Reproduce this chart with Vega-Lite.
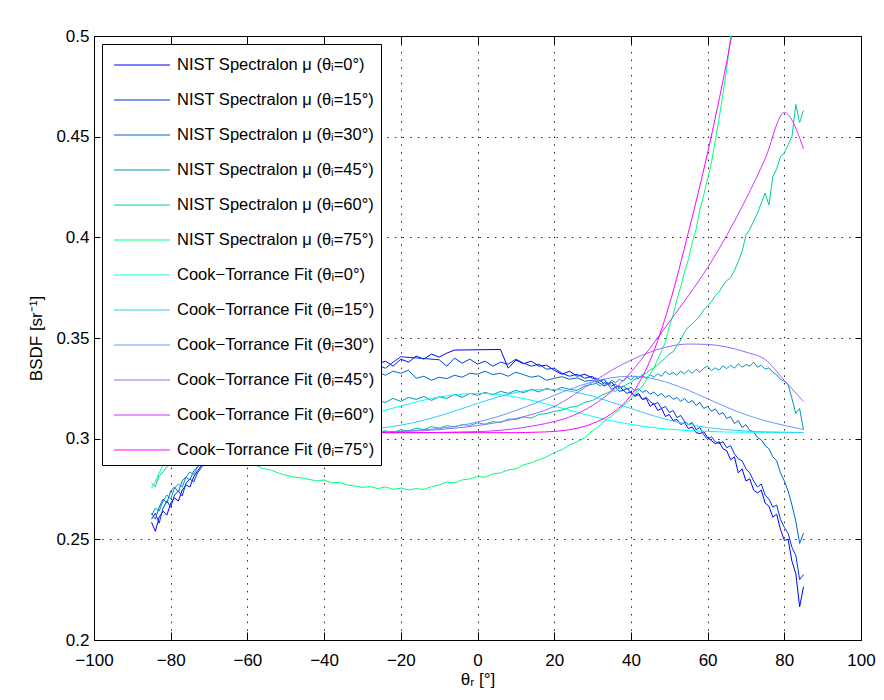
{
  "$schema": "https://vega.github.io/schema/vega-lite/v6.json",
  "width": 767,
  "height": 604,
  "autosize": {"type": "none"},
  "padding": {"left": 94, "top": 36, "right": 23, "bottom": 60},
  "background": "white",
  "config": {
    "font": "Liberation Sans",
    "view": {"stroke": "black", "strokeWidth": 1},
    "axis": {
      "labelFont": "Liberation Sans", "labelFontSize": 17, "labelColor": "black",
      "titleFont": "Liberation Sans", "titleFontSize": 17, "titleFontWeight": "normal", "titleColor": "black",
      "domainColor": "black", "tickColor": "black", "labelFlush": false, "labelOverlap": false
    }
  },
  "datasets": {
    "nist": [
      {"x":-85,"N0":0.2585,"N15":0.2600,"N30":0.2630,"N45":0.2620,"N60":0.2780,"N75":0.2755},
      {"x":-84,"N0":0.2540,"N15":0.2630,"N30":0.2600,"N45":0.2655,"N60":0.2762,"N75":0.2785},
      {"x":-83,"N0":0.2610,"N15":0.2580,"N30":0.2660,"N45":0.2640,"N60":0.2815,"N75":0.2830},
      {"x":-82,"N0":0.2640,"N15":0.2655,"N30":0.2700,"N45":0.2690,"N60":0.2835,"N75":0.2870},
      {"x":-81,"N0":0.2620,"N15":0.2690,"N30":0.2680,"N45":0.2720,"N60":0.2860,"N75":0.2880},
      {"x":-80,"N0":0.2680,"N15":0.2660,"N30":0.2740,"N45":0.2700,"N60":0.2880,"N75":0.2890},
      {"x":-79,"N0":0.2705,"N15":0.2720,"N30":0.2760,"N45":0.2755,"N60":0.2885},
      {"x":-78,"N0":0.2690,"N15":0.2740,"N30":0.2735,"N45":0.2775},
      {"x":-77,"N0":0.2745,"N15":0.2715,"N30":0.2790,"N45":0.2760},
      {"x":-76,"N0":0.2770,"N15":0.2780,"N30":0.2810,"N45":0.2810,"N60":0.2890},
      {"x":-75,"N0":0.2760,"N15":0.2800,"N30":0.2795,"N45":0.2835},
      {"x":-74,"N0":0.2810,"N15":0.2785,"N30":0.2840,"N45":0.2820},
      {"x":-73,"N0":0.2840,"N15":0.2830,"N30":0.2860,"N45":0.2860},
      {"x":-70,"N0":0.2920,"N15":0.2910,"N30":0.2930,"N45":0.2900,"N60":0.2900,"N75":0.2900},
      {"x":-66,"N0":0.3000,"N15":0.2990,"N30":0.3000,"N45":0.2960,"N60":0.2910,"N75":0.2900},
      {"x":-62,"N0":0.3070,"N15":0.3060,"N30":0.3060,"N45":0.3010,"N75":0.2890},
      {"x":-58,"N0":0.3130,"N15":0.3120,"N30":0.3110,"N45":0.3050,"N75":0.2870},
      {"x":-56,"N75":0.2852},
      {"x":-54,"N0":0.3180,"N15":0.3170,"N30":0.3150,"N45":0.3090,"N60":0.2920,"N75":0.2845},
      {"x":-52,"N75":0.2830},
      {"x":-50,"N0":0.3220,"N15":0.3220,"N30":0.3190,"N45":0.3110,"N60":0.2935,"N75":0.2818},
      {"x":-48,"N75":0.2810},
      {"x":-46,"N0":0.3260,"N15":0.3260,"N30":0.3220,"N60":0.2955,"N75":0.2805},
      {"x":-44,"N75":0.2798},
      {"x":-42,"N0":0.3290,"N15":0.3300,"N30":0.3250,"N60":0.2970,"N75":0.2790},
      {"x":-40,"N45":0.3140,"N75":0.2795},
      {"x":-38,"N0":0.3310,"N15":0.3320,"N30":0.3280,"N45":0.3150,"N60":0.2990,"N75":0.2780},
      {"x":-36,"N75":0.2784},
      {"x":-34,"N0":0.3340,"N15":0.3340,"N45":0.3165,"N60":0.3000,"N75":0.2770},
      {"x":-32,"N75":0.2765},
      {"x":-30,"N0":0.3350,"N15":0.3360,"N45":0.3175,"N60":0.3010,"N75":0.2758},
      {"x":-28,"N0":0.3360,"N15":0.3350,"N45":0.3180,"N60":0.3020,"N75":0.2762},
      {"x":-26,"N0":0.3370,"N15":0.3365,"N30":0.3330,"N45":0.3190,"N60":0.3032,"N75":0.2752},
      {"x":-24,"N0":0.3385,"N15":0.3350,"N30":0.3315,"N45":0.3180,"N60":0.3040,"N75":0.2760},
      {"x":-22,"N0":0.3360,"N15":0.3380,"N30":0.3335,"N45":0.3200,"N60":0.3028,"N75":0.2748},
      {"x":-20,"N0":0.3395,"N15":0.3407,"N30":0.3325,"N45":0.3185,"N60":0.3045,"N75":0.2755},
      {"x":-18,"N0":0.3380,"N30":0.3340,"N45":0.3205,"N60":0.3038,"N75":0.2745},
      {"x":-16,"N0":0.3410,"N30":0.3300,"N45":0.3195,"N60":0.3052,"N75":0.2752},
      {"x":-14,"N0":0.3395,"N30":0.3310,"N45":0.3210,"N60":0.3045,"N75":0.2748},
      {"x":-12,"N0":0.3420,"N30":0.3290,"N45":0.3190,"N60":0.3060,"N75":0.2762},
      {"x":-10,"N0":0.3405,"N15":0.3392,"N30":0.3305,"N45":0.3208,"N60":0.3052,"N75":0.2770},
      {"x":-8,"N0":0.3425,"N15":0.3360,"N30":0.3298,"N45":0.3200,"N60":0.3065,"N75":0.2785},
      {"x":-6,"N0":0.3440,"N15":0.3400,"N30":0.3315,"N45":0.3220,"N60":0.3058,"N75":0.2780},
      {"x":-4,"N15":0.3375,"N30":0.3305,"N45":0.3205,"N60":0.3070,"N75":0.2795},
      {"x":-2,"N15":0.3395,"N30":0.3325,"N45":0.3225,"N60":0.3066,"N75":0.2800},
      {"x":0,"N15":0.3370,"N30":0.3320,"N45":0.3215,"N60":0.3078,"N75":0.2812},
      {"x":2,"N15":0.3385,"N30":0.3335,"N45":0.3230,"N60":0.3072,"N75":0.2808},
      {"x":4,"N15":0.3360,"N30":0.3318,"N45":0.3218,"N60":0.3085,"N75":0.2825},
      {"x":6,"N0":0.3443,"N15":0.3380,"N30":0.3325,"N45":0.3235,"N60":0.3080,"N75":0.2830},
      {"x":8,"N0":0.3350,"N15":0.3370,"N30":0.3310,"N45":0.3225,"N60":0.3098,"N75":0.2845},
      {"x":10,"N0":0.3390,"N15":0.3395,"N30":0.3330,"N45":0.3240,"N60":0.3095,"N75":0.2850},
      {"x":12,"N0":0.3372,"N15":0.3375,"N30":0.3318,"N45":0.3228,"N60":0.3108,"N75":0.2870},
      {"x":14,"N0":0.3385,"N15":0.3360,"N30":0.3305,"N45":0.3245,"N60":0.3102,"N75":0.2880},
      {"x":16,"N0":0.3360,"N15":0.3370,"N30":0.3312,"N45":0.3232,"N60":0.3120,"N75":0.2895},
      {"x":18,"N0":0.3365,"N15":0.3345,"N30":0.3290,"N45":0.3250,"N60":0.3125,"N75":0.2910},
      {"x":20,"N0":0.3340,"N15":0.3350,"N30":0.3300,"N45":0.3238,"N60":0.3135,"N75":0.2930},
      {"x":22,"N0":0.3320,"N15":0.3325,"N30":0.3308,"N45":0.3255,"N60":0.3142,"N75":0.2945},
      {"x":24,"N0":0.3335,"N15":0.3310,"N30":0.3295,"N45":0.3245,"N60":0.3155,"N75":0.2968},
      {"x":26,"N0":0.3310,"N15":0.3320,"N30":0.3302,"N45":0.3240,"N60":0.3162,"N75":0.2985},
      {"x":28,"N0":0.3320,"N15":0.3300,"N30":0.3285,"N45":0.3262,"N60":0.3180,"N75":0.3005},
      {"x":30,"N0":0.3300,"N15":0.3310,"N30":0.3290,"N45":0.3270,"N60":0.3190,"N75":0.3040},
      {"x":31,"N0":0.3300,"N15":0.3285,"N30":0.3280,"N45":0.3275,"N60":0.3200,"N75":0.3052},
      {"x":32,"N0":0.3285,"N15":0.3275,"N30":0.3292,"N45":0.3262,"N60":0.3212,"N75":0.3068},
      {"x":33,"N0":0.3295,"N15":0.3262,"N30":0.3270,"N45":0.3280,"N60":0.3220,"N75":0.3085},
      {"x":34,"N0":0.3270,"N15":0.3270,"N30":0.3278,"N45":0.3270,"N60":0.3228,"N75":0.3100},
      {"x":35,"N0":0.3280,"N15":0.3245,"N30":0.3262,"N45":0.3290,"N60":0.3240,"N75":0.3112},
      {"x":36,"N0":0.3255,"N15":0.3255,"N30":0.3270,"N45":0.3278,"N60":0.3235,"N75":0.3130},
      {"x":37,"N0":0.3262,"N15":0.3235,"N30":0.3250,"N45":0.3295,"N60":0.3252,"N75":0.3142},
      {"x":38,"N0":0.3240,"N15":0.3240,"N30":0.3262,"N45":0.3285,"N60":0.3258,"N75":0.3165},
      {"x":39,"N0":0.3250,"N15":0.3225,"N30":0.3245,"N45":0.3305,"N60":0.3270,"N75":0.3180},
      {"x":40,"N0":0.3228,"N15":0.3232,"N30":0.3255,"N45":0.3292,"N60":0.3280,"N75":0.3195},
      {"x":41,"N0":0.3215,"N15":0.3210,"N30":0.3238,"N45":0.3310,"N60":0.3295,"N75":0.3225},
      {"x":42,"N0":0.3225,"N15":0.3218,"N30":0.3248,"N45":0.3298,"N60":0.3300,"N75":0.3240},
      {"x":43,"N0":0.3195,"N15":0.3195,"N30":0.3230,"N45":0.3312,"N60":0.3318,"N75":0.3262},
      {"x":44,"N0":0.3200,"N15":0.3205,"N30":0.3240,"N45":0.3300,"N60":0.3325,"N75":0.3290},
      {"x":45,"N0":0.3160,"N15":0.3185,"N30":0.3220,"N45":0.3318,"N60":0.3342,"N75":0.3320},
      {"x":46,"N0":0.3175,"N15":0.3170,"N30":0.3232,"N45":0.3305,"N60":0.3350,"N75":0.3350},
      {"x":47,"N0":0.3140,"N15":0.3180,"N30":0.3212,"N45":0.3322,"N60":0.3368,"N75":0.3395},
      {"x":48,"N0":0.3150,"N15":0.3150,"N30":0.3225,"N45":0.3310,"N60":0.3385,"N75":0.3435},
      {"x":49,"N0":0.3110,"N15":0.3160,"N30":0.3205,"N45":0.3335,"N60":0.3400,"N75":0.3480},
      {"x":50,"N0":0.3120,"N15":0.3130,"N30":0.3215,"N45":0.3318,"N60":0.3420,"N75":0.3555},
      {"x":51,"N0":0.3090,"N15":0.3140,"N30":0.3195,"N45":0.3328,"N60":0.3432,"N75":0.3615},
      {"x":52,"N0":0.3095,"N15":0.3105,"N30":0.3205,"N45":0.3315,"N60":0.3460,"N75":0.3690},
      {"x":53,"N0":0.3070,"N15":0.3115,"N30":0.3185,"N45":0.3335,"N60":0.3490,"N75":0.3755},
      {"x":54,"N0":0.3080,"N15":0.3085,"N30":0.3200,"N45":0.3322,"N60":0.3530,"N75":0.3830},
      {"x":55,"N0":0.3050,"N15":0.3070,"N30":0.3178,"N45":0.3340,"N60":0.3555,"N75":0.3890},
      {"x":56,"N0":0.3058,"N15":0.3080,"N30":0.3190,"N45":0.3325,"N60":0.3570,"N75":0.3975},
      {"x":57,"N0":0.3030,"N15":0.3045,"N30":0.3165,"N45":0.3345,"N60":0.3590,"N75":0.4040},
      {"x":58,"N0":0.3025,"N15":0.3055,"N30":0.3180,"N45":0.3330,"N60":0.3610,"N75":0.4140},
      {"x":59,"N0":0.3035,"N15":0.3020,"N30":0.3150,"N45":0.3350,"N60":0.3640,"N75":0.4210},
      {"x":60,"N0":0.3005,"N15":0.2995,"N30":0.3160,"N45":0.3360,"N60":0.3660,"N75":0.4290},
      {"x":61,"N0":0.2990,"N15":0.3010,"N30":0.3135,"N45":0.3338,"N60":0.3680,"N75":0.4370},
      {"x":62,"N0":0.2975,"N15":0.2985,"N30":0.3148,"N45":0.3352,"N60":0.3710,"N75":0.4480},
      {"x":63,"N0":0.2985,"N15":0.2975,"N30":0.3120,"N45":0.3340,"N60":0.3730,"N75":0.4590},
      {"x":64,"N0":0.2950,"N15":0.2985,"N30":0.3130,"N45":0.3362,"N60":0.3760,"N75":0.4715},
      {"x":65,"N0":0.2940,"N15":0.2955,"N30":0.3100,"N45":0.3348,"N60":0.3785,"N75":0.4840},
      {"x":66,"N0":0.2895,"N15":0.2965,"N30":0.3110,"N45":0.3365,"N60":0.3800,"N75":0.5000},
      {"x":67,"N0":0.2910,"N15":0.2925,"N30":0.3075,"N45":0.3350,"N60":0.3835,"N75":0.5150},
      {"x":68,"N0":0.2830,"N15":0.2900,"N30":0.3090,"N45":0.3372,"N60":0.3880},
      {"x":69,"N0":0.2850,"N15":0.2890,"N30":0.3055,"N45":0.3355,"N60":0.3930},
      {"x":70,"N0":0.2790,"N15":0.2850,"N30":0.3070,"N45":0.3368,"N60":0.4010},
      {"x":71,"N0":0.2800,"N15":0.2830,"N30":0.3040,"N45":0.3360,"N60":0.4040},
      {"x":72,"N0":0.2745,"N15":0.2790,"N30":0.3035,"N45":0.3380,"N60":0.4080},
      {"x":73,"N0":0.2730,"N15":0.2760,"N30":0.3005,"N45":0.3355,"N60":0.4120},
      {"x":74,"N0":0.2745,"N15":0.2775,"N30":0.2995,"N45":0.3365,"N60":0.4170},
      {"x":75,"N0":0.2680,"N15":0.2720,"N30":0.2965,"N45":0.3345,"N60":0.4220},
      {"x":76,"N0":0.2665,"N15":0.2700,"N30":0.2950,"N45":0.3352,"N60":0.4160},
      {"x":77,"N0":0.2610,"N15":0.2660,"N30":0.2910,"N45":0.3330,"N60":0.4300},
      {"x":78,"N0":0.2625,"N15":0.2670,"N30":0.2890,"N45":0.3318,"N60":0.4340},
      {"x":79,"N0":0.2550,"N15":0.2600,"N30":0.2830,"N45":0.3295,"N60":0.4400},
      {"x":80,"N0":0.2495,"N15":0.2560,"N30":0.2790,"N45":0.3285,"N60":0.4420},
      {"x":81,"N0":0.2500,"N15":0.2530,"N30":0.2740,"N45":0.3268,"N60":0.4460},
      {"x":82,"N0":0.2390,"N15":0.2460,"N30":0.2670,"N45":0.3200,"N60":0.4500},
      {"x":83,"N0":0.2330,"N15":0.2420,"N30":0.2590,"N45":0.3125,"N60":0.4660},
      {"x":84,"N0":0.2165,"N15":0.2300,"N30":0.2480,"N45":0.3150,"N60":0.4570},
      {"x":85,"N0":0.2265,"N15":0.2325,"N30":0.2530,"N45":0.3045,"N60":0.4630}
    ],
    "ct": [
      {"x":-85,"C0":0.3030,"C15":0.3030,"C30":0.3030,"C45":0.3030,"C60":0.3030,"C75":0.3030},
      {"x":-80,"C0":0.3030,"C15":0.3030,"C30":0.3030,"C45":0.3030,"C60":0.3030,"C75":0.3030},
      {"x":-75,"C0":0.3031,"C15":0.3030,"C30":0.3030,"C45":0.3030,"C60":0.3030,"C75":0.3030},
      {"x":-70,"C0":0.3032,"C15":0.3030,"C30":0.3030,"C45":0.3030,"C60":0.3030,"C75":0.3030},
      {"x":-65,"C0":0.3033,"C15":0.3030,"C30":0.3030,"C45":0.3030,"C60":0.3030,"C75":0.3030},
      {"x":-60,"C0":0.3036,"C15":0.3030,"C30":0.3030,"C45":0.3030,"C60":0.3030,"C75":0.3030},
      {"x":-55,"C0":0.3040,"C15":0.3030,"C30":0.3030,"C45":0.3030,"C60":0.3030,"C75":0.3030},
      {"x":-50,"C0":0.3047,"C15":0.3031,"C30":0.3030,"C45":0.3030,"C60":0.3030,"C75":0.3030},
      {"x":-45,"C0":0.3057,"C15":0.3032,"C30":0.3030,"C45":0.3030,"C60":0.3030,"C75":0.3030},
      {"x":-40,"C0":0.3071,"C15":0.3034,"C30":0.3030,"C45":0.3030,"C60":0.3030,"C75":0.3030},
      {"x":-35,"C0":0.3089,"C15":0.3038,"C30":0.3031,"C45":0.3030,"C60":0.3030,"C75":0.3030},
      {"x":-30,"C0":0.3111,"C15":0.3043,"C30":0.3032,"C45":0.3030,"C60":0.3030,"C75":0.3030},
      {"x":-25,"C0":0.3136,"C15":0.3053,"C30":0.3034,"C45":0.3032,"C60":0.3030,"C75":0.3030},
      {"x":-20,"C0":0.3162,"C15":0.3067,"C30":0.3037,"C45":0.3035,"C60":0.3030,"C75":0.3030},
      {"x":-15,"C0":0.3187,"C15":0.3087,"C30":0.3043,"C45":0.3039,"C60":0.3030,"C75":0.3030},
      {"x":-10,"C0":0.3207,"C15":0.3113,"C30":0.3051,"C45":0.3045,"C60":0.3031,"C75":0.3030},
      {"x":-5,"C0":0.3220,"C15":0.3143,"C30":0.3064,"C45":0.3054,"C60":0.3033,"C75":0.3030},
      {"x":0,"C0":0.3225,"C15":0.3175,"C30":0.3083,"C45":0.3065,"C60":0.3035,"C75":0.3030},
      {"x":5,"C0":0.3220,"C15":0.3205,"C30":0.3108,"C45":0.3080,"C60":0.3040,"C75":0.3030},
      {"x":10,"C0":0.3207,"C15":0.3229,"C30":0.3140,"C45":0.3100,"C60":0.3050,"C75":0.3030},
      {"x":15,"C0":0.3187,"C15":0.3243,"C30":0.3176,"C45":0.3125,"C60":0.3065,"C75":0.3032},
      {"x":20,"C0":0.3162,"C15":0.3244,"C30":0.3215,"C45":0.3160,"C60":0.3085,"C75":0.3036},
      {"x":25,"C0":0.3136,"C15":0.3233,"C30":0.3252,"C45":0.3215,"C60":0.3115,"C75":0.3048},
      {"x":30,"C0":0.3111,"C15":0.3211,"C30":0.3282,"C45":0.3280,"C60":0.3165,"C75":0.3075},
      {"x":35,"C0":0.3089,"C15":0.3181,"C30":0.3303,"C45":0.3340,"C60":0.3235,"C75":0.3125},
      {"x":40,"C0":0.3071,"C15":0.3150,"C30":0.3310,"C45":0.3390,"C60":0.3330,"C75":0.3215},
      {"x":45,"C0":0.3057,"C15":0.3119,"C30":0.3301,"C45":0.3430,"C60":0.3450,"C75":0.3388},
      {"x":50,"C0":0.3047,"C15":0.3092,"C30":0.3276,"C45":0.3458,"C60":0.3580,"C75":0.3665},
      {"x":55,"C0":0.3040,"C15":0.3071,"C30":0.3240,"C45":0.3470,"C60":0.3710,"C75":0.4025},
      {"x":60,"C0":0.3036,"C15":0.3055,"C30":0.3198,"C45":0.3468,"C60":0.3850,"C75":0.4420},
      {"x":65,"C0":0.3033,"C15":0.3045,"C30":0.3156,"C45":0.3455,"C60":0.4010,"C75":0.4873},
      {"x":70,"C0":0.3032,"C15":0.3038,"C30":0.3119,"C45":0.3430,"C60":0.4190,"C75":0.5400},
      {"x":75,"C0":0.3031,"C15":0.3034,"C30":0.3089,"C45":0.3393,"C60":0.4390},
      {"x":80,"C0":0.3030,"C15":0.3032,"C30":0.3066,"C45":0.3290,"C60":0.4620},
      {"x":85,"C0":0.3030,"C15":0.3031,"C30":0.3045,"C45":0.3185,"C60":0.4440}
    ]
  },
  "layer": [
    {
      "data": {"name": "nist"},
      "transform": [
        {"fold": ["N0","N15","N30","N45","N60","N75"], "as": ["s","y"]},
        {"filter": "isValid(datum.y)"}
      ],
      "mark": {"type": "line", "strokeWidth": 1, "clip": true},
      "encoding": {
        "x": {"field": "x", "type": "quantitative",
          "scale": {"domain": [-100,100], "nice": false, "zero": false},
          "axis": {"orient": "bottom", "values": [-100,-80,-60,-40,-20,0,20,40,60,80,100],
            "grid": true, "gridColor": "black", "gridDash": [1.5,6.2], "gridOpacity": 0.85,
            "tickSize": -8, "labelPadding": 20, "title": "θᵣ [°]", "titlePadding": 3}},
        "y": {"field": "y", "type": "quantitative",
          "scale": {"domain": [0.2,0.5], "nice": false, "zero": false},
          "axis": {"orient": "left", "values": [0.2,0.25,0.3,0.35,0.4,0.45,0.5], "format": ".2~f",
            "grid": true, "gridColor": "black", "gridDash": [1.5,6.2], "gridOpacity": 0.85,
            "tickSize": -6, "labelPadding": 11, "title": "BSDF [sr⁻¹]", "titlePadding": 10}},
        "color": {"field": "s", "type": "nominal",
          "scale": {"domain": ["N0","N15","N30","N45","N60","N75","C0","C15","C30","C45","C60","C75"],
            "range": ["#0000ff","#0033e6","#0066cc","#0099b3","#00cc99","#00ff80","#00ffff","#33ccff","#6699ff","#9966ff","#cc33ff","#ff00ff"]},
          "legend": {"orient": "none", "legendX": 8, "legendY": 8, "title": null,
            "symbolType": "M-0.64,0H3.36", "symbolSize": 784, "symbolStrokeWidth": 1.2,
            "labelFont": "Liberation Sans", "labelFontSize": 16.5, "labelColor": "black",
            "labelOffset": 39, "rowPadding": 11, "padding": 6, "labelLimit": 400,
            "strokeColor": "black", "fillColor": "white",
            "labelExpr": "['NIST Spectralon μ (θᵢ=0°)','NIST Spectralon μ (θᵢ=15°)','NIST Spectralon μ (θᵢ=30°)','NIST Spectralon μ (θᵢ=45°)','NIST Spectralon μ (θᵢ=60°)','NIST Spectralon μ (θᵢ=75°)','Cook−Torrance Fit (θᵢ=0°)','Cook−Torrance Fit (θᵢ=15°)','Cook−Torrance Fit (θᵢ=30°)','Cook−Torrance Fit (θᵢ=45°)','Cook−Torrance Fit (θᵢ=60°)','Cook−Torrance Fit (θᵢ=75°)'][indexof(['N0','N15','N30','N45','N60','N75','C0','C15','C30','C45','C60','C75'], datum.label)]"}}
      }
    },
    {
      "data": {"name": "ct"},
      "transform": [
        {"fold": ["C0","C15","C30","C45","C60","C75"], "as": ["s","y"]},
        {"filter": "isValid(datum.y)"}
      ],
      "mark": {"type": "line", "strokeWidth": 1, "interpolate": "monotone", "clip": true},
      "encoding": {
        "x": {"field": "x", "type": "quantitative",
          "scale": {"domain": [-100,100], "nice": false, "zero": false},
          "axis": {"orient": "top", "values": [-100,-80,-60,-40,-20,0,20,40,60,80,100],
            "grid": false, "labels": false, "tickSize": -8, "title": null}},
        "y": {"field": "y", "type": "quantitative",
          "scale": {"domain": [0.2,0.5], "nice": false, "zero": false},
          "axis": {"orient": "right", "values": [0.2,0.25,0.3,0.35,0.4,0.45,0.5],
            "grid": false, "labels": false, "tickSize": -6, "title": null}},
        "color": {"field": "s", "type": "nominal",
          "scale": {"domain": ["N0","N15","N30","N45","N60","N75","C0","C15","C30","C45","C60","C75"],
            "range": ["#0000ff","#0033e6","#0066cc","#0099b3","#00cc99","#00ff80","#00ffff","#33ccff","#6699ff","#9966ff","#cc33ff","#ff00ff"]},
          "legend": {"orient": "none", "legendX": 8, "legendY": 8, "title": null,
            "symbolType": "M-0.64,0H3.36", "symbolSize": 784, "symbolStrokeWidth": 1.2,
            "labelFont": "Liberation Sans", "labelFontSize": 16.5, "labelColor": "black",
            "labelOffset": 39, "rowPadding": 11, "padding": 6, "labelLimit": 400,
            "strokeColor": "black", "fillColor": "white",
            "labelExpr": "['NIST Spectralon μ (θᵢ=0°)','NIST Spectralon μ (θᵢ=15°)','NIST Spectralon μ (θᵢ=30°)','NIST Spectralon μ (θᵢ=45°)','NIST Spectralon μ (θᵢ=60°)','NIST Spectralon μ (θᵢ=75°)','Cook−Torrance Fit (θᵢ=0°)','Cook−Torrance Fit (θᵢ=15°)','Cook−Torrance Fit (θᵢ=30°)','Cook−Torrance Fit (θᵢ=45°)','Cook−Torrance Fit (θᵢ=60°)','Cook−Torrance Fit (θᵢ=75°)'][indexof(['N0','N15','N30','N45','N60','N75','C0','C15','C30','C45','C60','C75'], datum.label)]"}}
      }
    }
  ],
  "resolve": {"axis": {"x": "independent", "y": "independent"}}
}
